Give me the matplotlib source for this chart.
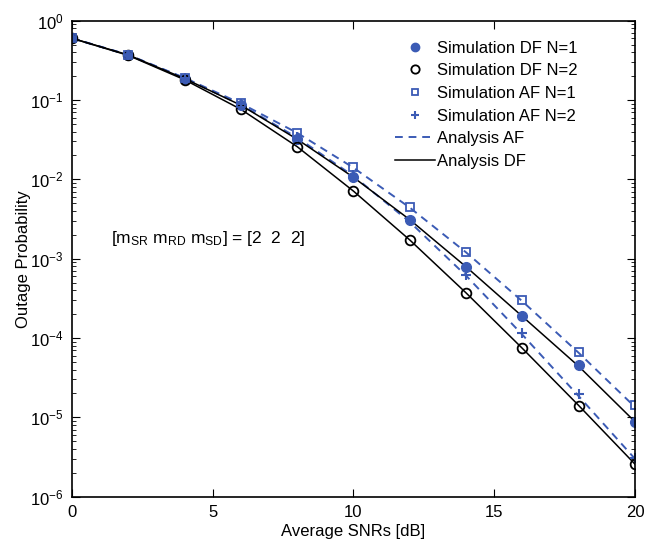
import numpy as np
import matplotlib
matplotlib.use("Agg")
import matplotlib.pyplot as plt
from matplotlib.ticker import LogLocator, NullFormatter

# SNR grid and outage probabilities
snr_db = [0, 2, 4, 6, 8, 10, 12, 14, 16, 18, 20]

sim_df_n1 = [0.60, 0.37, 0.186, 0.086, 0.032, 0.0106, 0.0031, 7.9e-4, 1.89e-4, 4.55e-5, 8.8e-6]
sim_df_n2 = [0.60, 0.365, 0.180, 0.0763, 0.0258, 0.0071, 0.00172, 3.7e-4, 7.4e-5, 1.41e-5, 2.57e-6]
sim_af_n1 = [0.60, 0.37, 0.190, 0.0908, 0.0387, 0.0142, 0.0045, 0.00122, 3.0e-4, 6.7e-5, 1.44e-5]
sim_af_n2 = [0.60, 0.37, 0.188, 0.088, 0.034, 0.0113, 0.0030, 6.2e-4, 1.16e-4, 1.96e-5, 3.1e-6]

ana_af_n1 = [0.60, 0.37, 0.190, 0.0905, 0.0385, 0.0140, 0.0044, 0.00120, 2.9e-4, 6.5e-5, 1.35e-5]
ana_af_n2 = [0.60, 0.37, 0.188, 0.087, 0.0335, 0.0110, 0.0029, 6.1e-4, 1.10e-4, 1.85e-5, 3.0e-6]
ana_df_n1 = [0.60, 0.37, 0.186, 0.086, 0.032, 0.0106, 0.0031, 7.9e-4, 1.87e-4, 4.4e-5, 8.8e-6]
ana_df_n2 = [0.60, 0.365, 0.180, 0.0763, 0.0258, 0.0071, 0.00172, 3.7e-4, 7.4e-5, 1.41e-5, 2.57e-6]

blue = "#3b5bb5"

plt.rcParams["font.family"] = ["Liberation Sans", "DejaVu Sans"]
plt.rcParams["mathtext.fontset"] = "custom"
plt.rcParams["mathtext.rm"] = "Liberation Sans"
plt.rcParams["mathtext.it"] = "Liberation Sans:italic"
plt.rcParams["mathtext.bf"] = "Liberation Sans:bold"

fig = plt.figure(figsize=(6.51, 5.44), dpi=100)
ax = fig.add_axes([0.1106, 0.087, 0.8648, 0.875])

# analysis curves (drawn first, markers on top)
ax.plot(snr_db, ana_af_n1, color=blue, ls=(0, (4, 3)), lw=1.4)
ax.plot(snr_db, ana_af_n2, color=blue, ls=(0, (4, 3)), lw=1.4)
ax.plot(snr_db, ana_df_n1, color="black", lw=1.1)
ax.plot(snr_db, ana_df_n2, color="black", lw=1.1)

# simulation markers
ax.plot(snr_db, sim_df_n1, ls="none", marker="o", ms=7, color=blue, mec=blue)
ax.plot(snr_db, sim_df_n2, ls="none", marker="o", ms=7, mfc="none", mec="black", mew=1.3)
ax.plot(snr_db, sim_af_n1, ls="none", marker="s", ms=6, mfc="none", mec=blue, mew=1.3)
ax.plot(snr_db, sim_af_n2, ls="none", marker="+", ms=7, color=blue, mew=1.5)

# legend handles
h = [
    plt.Line2D([], [], ls="none", marker="o", ms=6, color=blue),
    plt.Line2D([], [], ls="none", marker="o", ms=6, mfc="none", mec="black", mew=1.3),
    plt.Line2D([], [], ls="none", marker="s", ms=5, mfc="none", mec=blue, mew=1.3),
    plt.Line2D([], [], ls="none", marker="+", ms=6, color=blue, mew=1.5),
    plt.Line2D([], [], color=blue, ls=(0, (4, 3)), lw=1.4),
    plt.Line2D([], [], color="black", lw=1.1),
]
labels = ["Simulation DF N=1", "Simulation DF N=2", "Simulation AF N=1",
          "Simulation AF N=2", "Analysis AF", "Analysis DF"]
ax.legend(h, labels, loc="upper left", frameon=False, fontsize=12,
          handlelength=2.4, handletextpad=0.1, labelspacing=0.46,
          borderpad=0, borderaxespad=0, bbox_to_anchor=(0.574, 0.958))

ax.set_yscale("log")
ax.set_xlim(0, 20)
ax.set_ylim(1e-6, 1)
ax.set_xticks([0, 5, 10, 15, 20])
ax.yaxis.set_major_locator(LogLocator(base=10, numticks=10))
ax.yaxis.set_minor_locator(LogLocator(base=10, subs=np.arange(2, 10), numticks=10))
ax.yaxis.set_minor_formatter(NullFormatter())
ax.tick_params(which="both", direction="in", top=True, right=True, labelsize=12, pad=6)
ax.tick_params(which="major", length=6)
ax.tick_params(which="minor", length=3)
for s in ax.spines.values():
    s.set_linewidth(1.2)

ax.set_xlabel("Average SNRs [dB]", fontsize=12, labelpad=3)
ax.set_ylabel("Outage Probability", fontsize=12, labelpad=-1)

ax.text(1.4, 1.57e-3,
        r"[m$_{\mathrm{SR}}$ m$_{\mathrm{RD}}$ m$_{\mathrm{SD}}$] = [2  2  2]",
        fontsize=12.5)

fig.savefig("out.png", dpi=100)
